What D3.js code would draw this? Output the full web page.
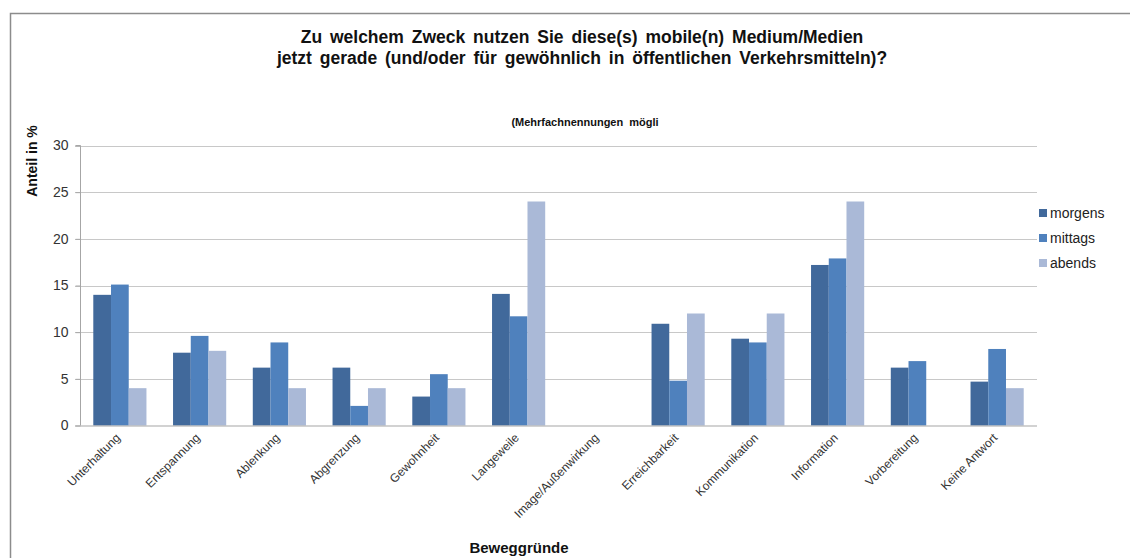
<!DOCTYPE html>
<html>
<head>
<meta charset="utf-8">
<script src="https://cdn.jsdelivr.net/npm/d3@7"></script>
<style>
  html, body { margin: 0; padding: 0; background: #fff; }
  svg { display: block; font-family: "Liberation Sans", Arial, sans-serif; }
</style>
</head>
<body>
<svg id="chart" width="1130" height="558"></svg>
<script>
// Survey data: purpose of mobile media use, by time of day (share in %)
const categories = [
  "Unterhaltung", "Entspannung", "Ablenkung", "Abgrenzung", "Gewohnheit",
  "Langeweile", "Image/Außenwirkung", "Erreichbarkeit", "Kommunikation",
  "Information", "Vorbereitung", "Keine Antwort"
];
const seriesNames = ["morgens", "mittags", "abends"];
const morgens = [14.0, 7.8, 6.2, 6.2, 3.1, 14.1, 0, 10.9, 9.3, 17.2, 6.2, 4.7];
const mittags = [15.1, 9.6, 8.9, 2.1, 5.5, 11.7, 0, 4.8, 8.9, 17.9, 6.9, 8.2];
const abends  = [4.0, 8.0, 4.0, 4.0, 4.0, 24.0, 0, 12.0, 12.0, 24.0, 0, 4.0];
const yTicks = [0, 5, 10, 15, 20, 25, 30];

const seriesValues = [morgens, mittags, abends];
const colors = ["#41699b", "#4f81bd", "#aab9d7"];

const svg = d3.select("#chart");
const plot = { left: 80, right: 1037, top: 145.5, bottom: 425.5 };

// outer frame
svg.append("path")
  .attr("d", "M10.5,560 V13.5 H1135")
  .attr("fill", "none")
  .attr("stroke", "#8c8c8c")
  .attr("stroke-width", 1.5);

const x = d3.scaleBand().domain(categories).range([plot.left, plot.right]).paddingInner(0).paddingOuter(0);
const inner = d3.scaleBand().domain(seriesNames).range([0, x.bandwidth()]).paddingInner(0).paddingOuter(0.75);
const y = d3.scaleLinear().domain([0, 30]).range([plot.bottom, plot.top]);

// horizontal gridlines
svg.append("g").selectAll("line").data(yTicks.filter(d => d > 0)).join("line")
  .attr("x1", plot.left - 5).attr("x2", plot.right)
  .attr("y1", d => Math.round(y(d)) + 0.5).attr("y2", d => Math.round(y(d)) + 0.5)
  .attr("stroke", "#c8c8c8").attr("stroke-width", 1.2);

// bars
const groups = svg.append("g").selectAll("g").data(categories).join("g")
  .attr("transform", d => `translate(${x(d)},0)`);
groups.selectAll("rect")
  .data((c, i) => seriesNames.map((s, k) => ({ s, k, v: seriesValues[k][i] })).filter(d => d.v > 0))
  .join("rect")
  .attr("x", d => inner(d.s))
  .attr("width", inner.bandwidth())
  .attr("y", d => y(d.v))
  .attr("height", d => y(0) - y(d.v))
  .attr("fill", d => colors[d.k]);

// y axis
const yAxis = svg.append("g").attr("transform", `translate(${plot.left + 0.5},0)`)
  .call(d3.axisLeft(y).tickValues(yTicks).tickSize(5).tickPadding(7));
yAxis.select(".domain").attr("stroke", "#a6a6a6").attr("d", `M-5,${plot.top}H0V${plot.bottom}`);
yAxis.selectAll(".tick line").attr("stroke", "#a6a6a6");
yAxis.selectAll(".tick text").attr("font-size", 14).attr("fill", "#333").attr("font-family", "Liberation Sans, Arial, sans-serif");

// x axis baseline
svg.append("line")
  .attr("x1", plot.left - 5).attr("x2", plot.right)
  .attr("y1", plot.bottom + 0.5).attr("y2", plot.bottom + 0.5)
  .attr("stroke", "#a6a6a6").attr("stroke-width", 1.2);

// category labels rotated
svg.append("g").selectAll("text").data(categories).join("text")
  .attr("transform", d => `translate(${x(d) + x.bandwidth() / 2 + 1},${plot.bottom + 13}) rotate(-45)`)
  .attr("text-anchor", "end")
  .attr("font-size", 12)
  .attr("fill", "#333")
  .text(d => d);

// titles
const title = svg.append("text").attr("text-anchor", "middle").attr("font-weight", "bold")
  .attr("font-size", 17.5).attr("word-spacing", 3).attr("fill", "#111");
title.append("tspan").attr("x", 582).attr("y", 43).text("Zu welchem Zweck nutzen Sie diese(s) mobile(n) Medium/Medien");
title.append("tspan").attr("x", 582).attr("y", 64).text("jetzt gerade (und/oder für gewöhnlich in öffentlichen Verkehrsmitteln)?");

svg.append("text").attr("x", 585).attr("y", 126).attr("text-anchor", "middle")
  .attr("font-weight", "bold").attr("font-size", 11).attr("word-spacing", 3).attr("fill", "#111")
  .text("(Mehrfachnennungen mögli");

svg.append("text")
  .attr("transform", "translate(37,161) rotate(-90)")
  .attr("text-anchor", "middle").attr("font-weight", "bold").attr("font-size", 14).attr("fill", "#111")
  .text("Anteil in %");

svg.append("text").attr("x", 519).attr("y", 553).attr("text-anchor", "middle")
  .attr("font-weight", "bold").attr("font-size", 15).attr("fill", "#111")
  .text("Beweggründe");

// legend
const legend = svg.append("g").selectAll("g").data(seriesNames).join("g")
  .attr("transform", (d, i) => `translate(1039,${213 + i * 25})`);
legend.append("rect").attr("x", 0).attr("y", -4).attr("width", 8).attr("height", 8)
  .attr("fill", (d, i) => colors[i]);
legend.append("text").attr("x", 11).attr("y", 5).attr("font-size", 14).attr("fill", "#222")
  .text(d => d);
</script>
</body>
</html>
